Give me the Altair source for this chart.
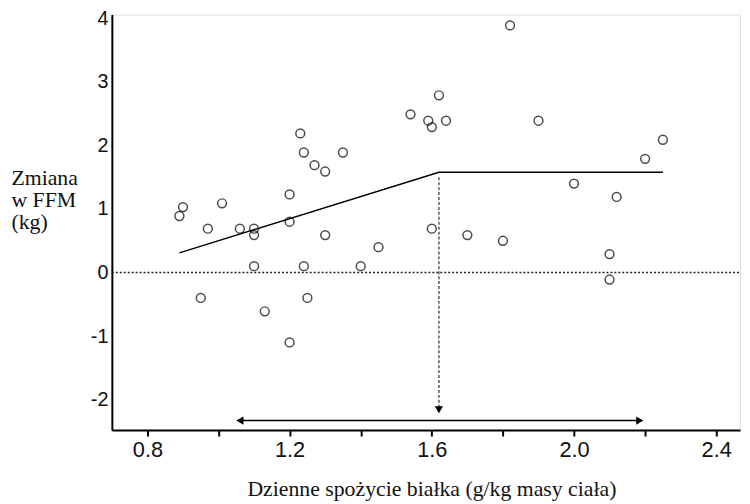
import altair as alt
import pandas as pd

# Scatter data: daily protein intake (g/kg) vs change in FFM (kg)
protein = [0.89, 0.90, 0.97, 1.01, 1.06, 1.10, 1.10, 1.10, 1.13, 0.95,
           1.20, 1.20, 1.20, 1.23, 1.24, 1.24, 1.25, 1.27, 1.30, 1.30,
           1.35, 1.40, 1.45, 1.54, 1.59, 1.60, 1.60, 1.62, 1.64, 1.70,
           1.80, 1.82, 1.90, 2.00, 2.10, 2.10, 2.12, 2.20, 2.25]
ffm_change = [0.89, 1.03, 0.69, 1.09, 0.69, 0.69, 0.59, 0.10, -0.61, -0.40,
              1.23, 0.80, -1.10, 2.19, 1.89, 0.10, -0.40, 1.69, 1.59, 0.59,
              1.89, 0.10, 0.40, 2.49, 2.39, 2.29, 0.69, 2.79, 2.39, 0.59,
              0.50, 3.89, 2.39, 1.40, 0.29, -0.11, 1.19, 1.79, 2.09]

# Piecewise (breakpoint) regression line
fit_x = [0.89, 1.62, 2.25]
fit_y = [0.31, 1.58, 1.58]

breakpoint_x = 1.62
ci_low, ci_high = 1.045, 2.20

x_domain = [0.7, 2.467]
y_domain = [-2.48, 4.06]
x_ticks = [0.8, 1.0, 1.2, 1.4, 1.6, 1.8, 2.0, 2.2, 2.4]
y_ticks = [-2, -1, 0, 1, 2, 3, 4]

pts = pd.DataFrame({"x": protein, "y": ffm_change})
fit = pd.DataFrame({"x": fit_x, "y": fit_y})

xs = alt.Scale(domain=x_domain, nice=False, zero=False)
ys = alt.Scale(domain=y_domain, nice=False, zero=False)

x_axis = alt.Axis(
    values=x_ticks,
    labelExpr="(round(datum.value*10) % 4 == 0) ? format(datum.value, '.1f') : ''",
    grid=False, tickSize=6, tickWidth=2, tickColor="black",
    domainColor="black", domainWidth=2,
    labelFont="Liberation Sans", labelFontSize=22, labelColor="#111",
    labelPadding=4,
    title="Dzienne spożycie białka (g/kg masy ciała)",
    titleFont="Liberation Serif", titleFontSize=22, titleFontWeight="normal",
    titleColor="#111", titleX=323, titleY=66, titleBaseline="alphabetic",
    titleAlign="center",
)
y_axis = alt.Axis(
    values=y_ticks, labelExpr="datum.value < 0 ? '-' + abs(datum.value) : '' + datum.value",
    grid=False, tickSize=0,
    domainColor="black", domainWidth=2,
    labelFont="Liberation Sans", labelFontSize=20, labelColor="#111",
    labelPadding=4,
    title=["Zmiana", "w FFM", "\u2007(kg)"], titleAngle=0,
    titleFont="Liberation Serif", titleFontSize=22, titleFontWeight="normal",
    titleColor="#111", titleAlign="left", titleBaseline="top",
    titleX=-102, titleY=155, titleLineHeight=22,
)

base_x = alt.X("x:Q", scale=xs, axis=x_axis)
base_y = alt.Y("y:Q", scale=ys, axis=y_axis)

points = alt.Chart(pts).mark_point(
    shape="circle", filled=False, color="black", strokeWidth=1.5, size=80
).encode(x=base_x, y=base_y)

line = alt.Chart(fit).mark_line(color="black", strokeWidth=1.5).encode(
    x=alt.X("x:Q", scale=xs), y=alt.Y("y:Q", scale=ys))

zero = alt.Chart(pd.DataFrame({"x": [x_domain[0]], "x2": [x_domain[1]], "y": [0]})).mark_rule(
    color="#222", strokeDash=[2, 2], strokeWidth=1.5
).encode(x=alt.X("x:Q", scale=xs), x2="x2:Q", y=alt.Y("y:Q", scale=ys))

vdash = alt.Chart(pd.DataFrame({"x": [breakpoint_x], "y": [1.50], "y2": [-2.15]})).mark_rule(
    color="#555", strokeDash=[3, 2], strokeWidth=1.5
).encode(x=alt.X("x:Q", scale=xs), y=alt.Y("y:Q", scale=ys), y2="y2:Q")

vhead = alt.Chart(pd.DataFrame({"x": [breakpoint_x], "y": [-2.16]})).mark_point(
    shape="triangle-down", filled=True, color="black", size=70, opacity=1
).encode(x=alt.X("x:Q", scale=xs), y=alt.Y("y:Q", scale=ys))

harrow = alt.Chart(pd.DataFrame({"x": [ci_low + 0.02], "x2": [ci_high - 0.02], "y": [-2.33]})).mark_rule(
    color="black", strokeWidth=1.5
).encode(x=alt.X("x:Q", scale=xs), x2="x2:Q", y=alt.Y("y:Q", scale=ys))

heads = alt.Chart(pd.DataFrame({
    "x": [ci_low + 0.015, ci_high - 0.015], "y": [-2.33, -2.33],
    "s": ["triangle-left", "triangle-right"]})).mark_point(
    filled=True, color="black", size=70, opacity=1
).encode(x=alt.X("x:Q", scale=xs), y=alt.Y("y:Q", scale=ys),
         shape=alt.Shape("s:N", scale=None, legend=None))

chart = alt.layer(zero, vdash, vhead, harrow, heads, line, points).properties(
    width=635, height=420,
    autosize=alt.AutoSizeParams(type="none"),
    padding={"left": 105, "top": 4, "right": 2, "bottom": 70},
).configure_view(stroke=None).configure(background="white")

chart.save("out.html", embed_options={"renderer": "svg", "actions": False})
